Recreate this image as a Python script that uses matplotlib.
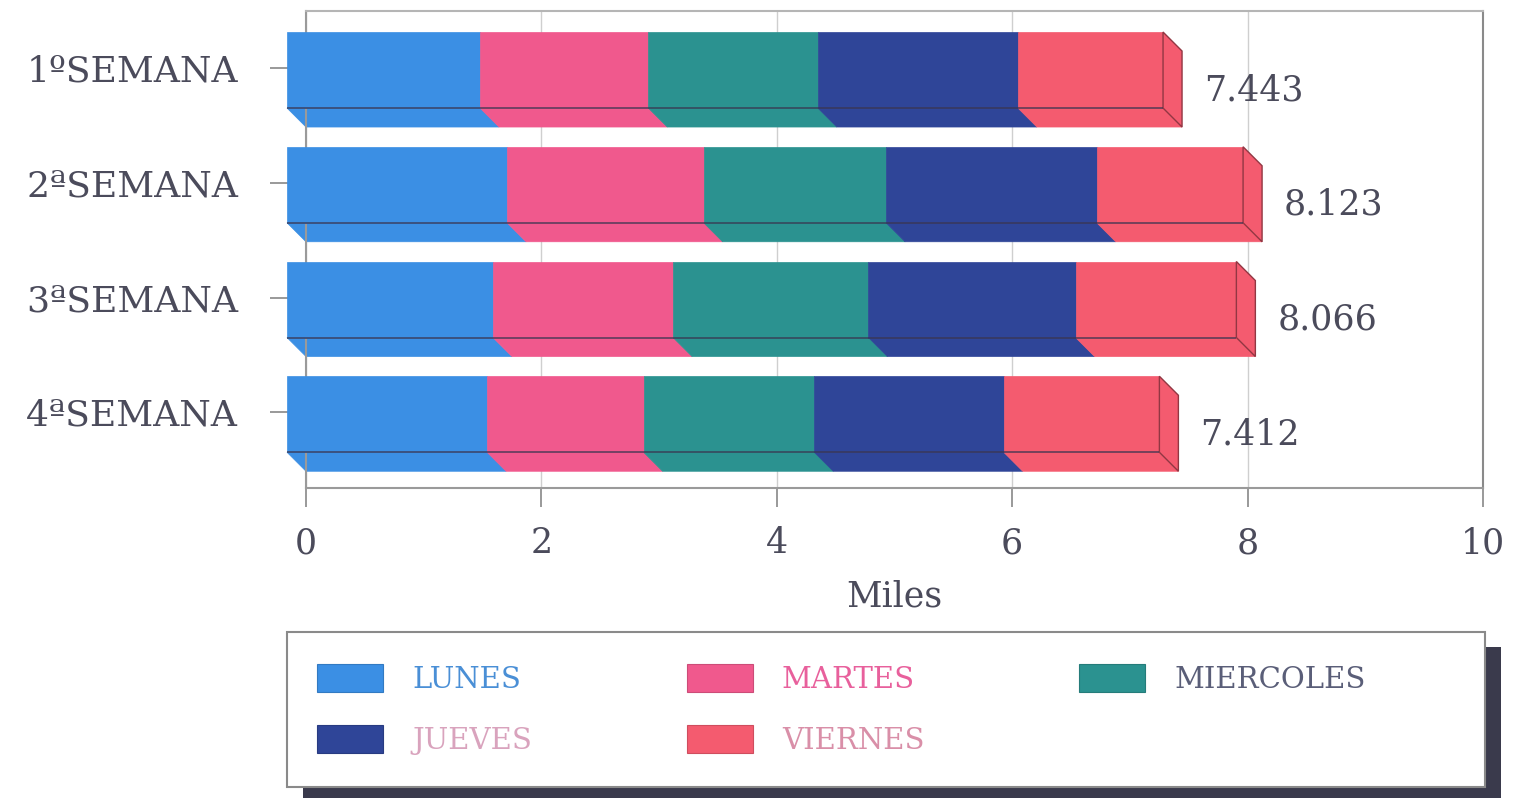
import matplotlib
matplotlib.use('Agg')
import matplotlib.pyplot as plt
from matplotlib.patches import Polygon, Rectangle
import numpy as np

# ---------------- data ----------------
weeks = ["1ºSEMANA", "2ªSEMANA", "3ªSEMANA", "4ªSEMANA"]
days = ["LUNES", "MARTES", "MIERCOLES", "JUEVES", "VIERNES"]
lunes = [1.64, 1.87, 1.75, 1.70]
martes = [1.43, 1.67, 1.53, 1.33]
miercoles = [1.44, 1.55, 1.66, 1.45]
jueves = [1.70, 1.79, 1.76, 1.61]
viernes = [1.233, 1.243, 1.366, 1.322]
total_labels = ["7.443", "8.123", "8.066", "7.412"]
x_ticks = [0, 2, 4, 6, 8, 10]
x_label = "Miles"

# ---------------- style ----------------
colors = ["#3b8fe4", "#f0598d", "#2b9290", "#2f4598", "#f45b6f"]
legend_text_colors = {"LUNES": "#4a8fd6", "MARTES": "#e8609c", "MIERCOLES": "#5a5e78",
                      "JUEVES": "#d9a3bd", "VIERNES": "#d98fa8"}
text_color = "#4b4b5b"
plt.rcParams['font.family'] = ['DejaVu Serif']

W, H = 1517, 798
fig = plt.figure(figsize=(W / 100, H / 100), dpi=100)
fig.patch.set_facecolor("white")
ax = fig.add_axes([306 / W, 1 - 488 / H, (1483 - 306) / W, (488 - 11) / H])

series = [lunes, martes, miercoles, jueves, viernes]
ypos = np.arange(len(weeks))
ax.set_xlim(0, 10)
ax.set_ylim(3.66, -0.497)

# 3D depth in data units
px_x = 1177 / 10.0
px_y = 477 / (3.66 + 0.497)
dx = 19 / px_x
dy = 19 / px_y
bar_h = 76 / px_y
bar_c = 2 / px_y


def darker(c, f=0.55):
    r, g, b = matplotlib.colors.to_rgb(c)
    return (r * f, g * f, b * f)


edge_dark = "#3a3550"
left = np.zeros(len(weeks))
for vals, col in zip(series, colors):
    vals = np.asarray(vals)
    for i, y in enumerate(ypos):
        l0 = left[i]
        r0 = left[i] + vals[i]
        yb = y + bar_c + bar_h / 2
        poly = Polygon([(l0 - dx, yb), (r0 - dx, yb), (r0, yb + dy), (l0, yb + dy)],
                       closed=True, facecolor=col, edgecolor=col, lw=0.5,
                       clip_on=False, zorder=2)
        ax.add_patch(poly)
    ax.barh(ypos + bar_c, vals, left=left - dx, height=bar_h, color=col,
            edgecolor=col, linewidth=0.5, clip_on=False, zorder=3)
    left = left + vals

# right side faces, front-bottom edges + total labels
totals = left
for i, y in enumerate(ypos):
    yt = y + bar_c - bar_h / 2
    yb = y + bar_c + bar_h / 2
    t = totals[i]
    side = Polygon([(t - dx, yt), (t, yt + dy), (t, yb + dy), (t - dx, yb)], closed=True,
                   facecolor=colors[-1], edgecolor=darker(colors[-1], 0.6), lw=1.0,
                   clip_on=False, zorder=3.5)
    ax.add_patch(side)
    ax.plot([-dx, t - dx], [yb, yb], color=edge_dark, lw=1.2, alpha=0.8,
            clip_on=False, zorder=4, solid_capstyle='butt')
    ax.text(t + 22 / px_x, y + 22 / px_y, total_labels[i], fontsize=25, color=text_color,
            ha='left', va='center', zorder=5)

# axes styling
ax.set_axisbelow(True)
ax.set_xticks(x_ticks)
ax.set_xticklabels([str(v) for v in x_ticks])
ax.set_yticks(ypos)
ax.set_yticklabels(weeks)
ax.tick_params(axis='x', length=13.7, width=1.2, color='#888888', pad=14,
               labelsize=25, labelcolor=text_color, direction='out')
ax.tick_params(axis='y', length=26, width=1.2, color='#888888', pad=23,
               labelsize=26, labelcolor=text_color, direction='out')
ax.grid(axis='x', color='#cfcfcf', lw=1.0)
ax.grid(axis='y', visible=False)
for s, c in zip(['left', 'right', 'top', 'bottom'], ['#9a9a9a', '#8a8a8a', '#b5b5b5', '#9a9a9a']):
    ax.spines[s].set_color(c)
    ax.spines[s].set_linewidth(1.5)
ax.set_xlabel(x_label, fontsize=25, color=text_color, labelpad=14)

# legend frame + shadow (figure pixels)
x0, x1 = 287, 1485
ytop, ybot = 632, 787
shadow = Rectangle(((x0 + 16) / W, 1 - (ybot + 15) / H), (x1 - x0) / W, (ybot - ytop) / H,
                   transform=fig.transFigure, facecolor='#3a3a4c', edgecolor='none', zorder=0)
frame = Rectangle((x0 / W, 1 - ybot / H), (x1 - x0) / W, (ybot - ytop) / H,
                  transform=fig.transFigure, facecolor='white', edgecolor='#8a8a8a',
                  lw=1.5, zorder=0.5)
fig.add_artist(shadow)
fig.add_artist(frame)

# legend entries
order = [0, 3, 1, 4, 2]
handles = [Rectangle((0, 0), 1, 1, facecolor=colors[k], edgecolor=darker(colors[k], 0.85), lw=0.8)
           for k in order]
labels = [days[k] for k in order]
fs_px = 21 * 100 / 72
leg = fig.legend(handles, labels, loc='upper left',
                 bbox_to_anchor=(317 / W, 1 - 664 / H),
                 ncol=3, fontsize=21, frameon=False,
                 borderpad=0, handlelength=66 / fs_px, handleheight=32 / fs_px,
                 handletextpad=29 / fs_px, labelspacing=31 / fs_px, borderaxespad=0,
                 columnspacing=155 / fs_px)
leg.set_zorder(2)
for txt in leg.get_texts():
    txt.set_color(legend_text_colors[txt.get_text()])

fig.savefig("out.png", dpi=100, facecolor="white")
